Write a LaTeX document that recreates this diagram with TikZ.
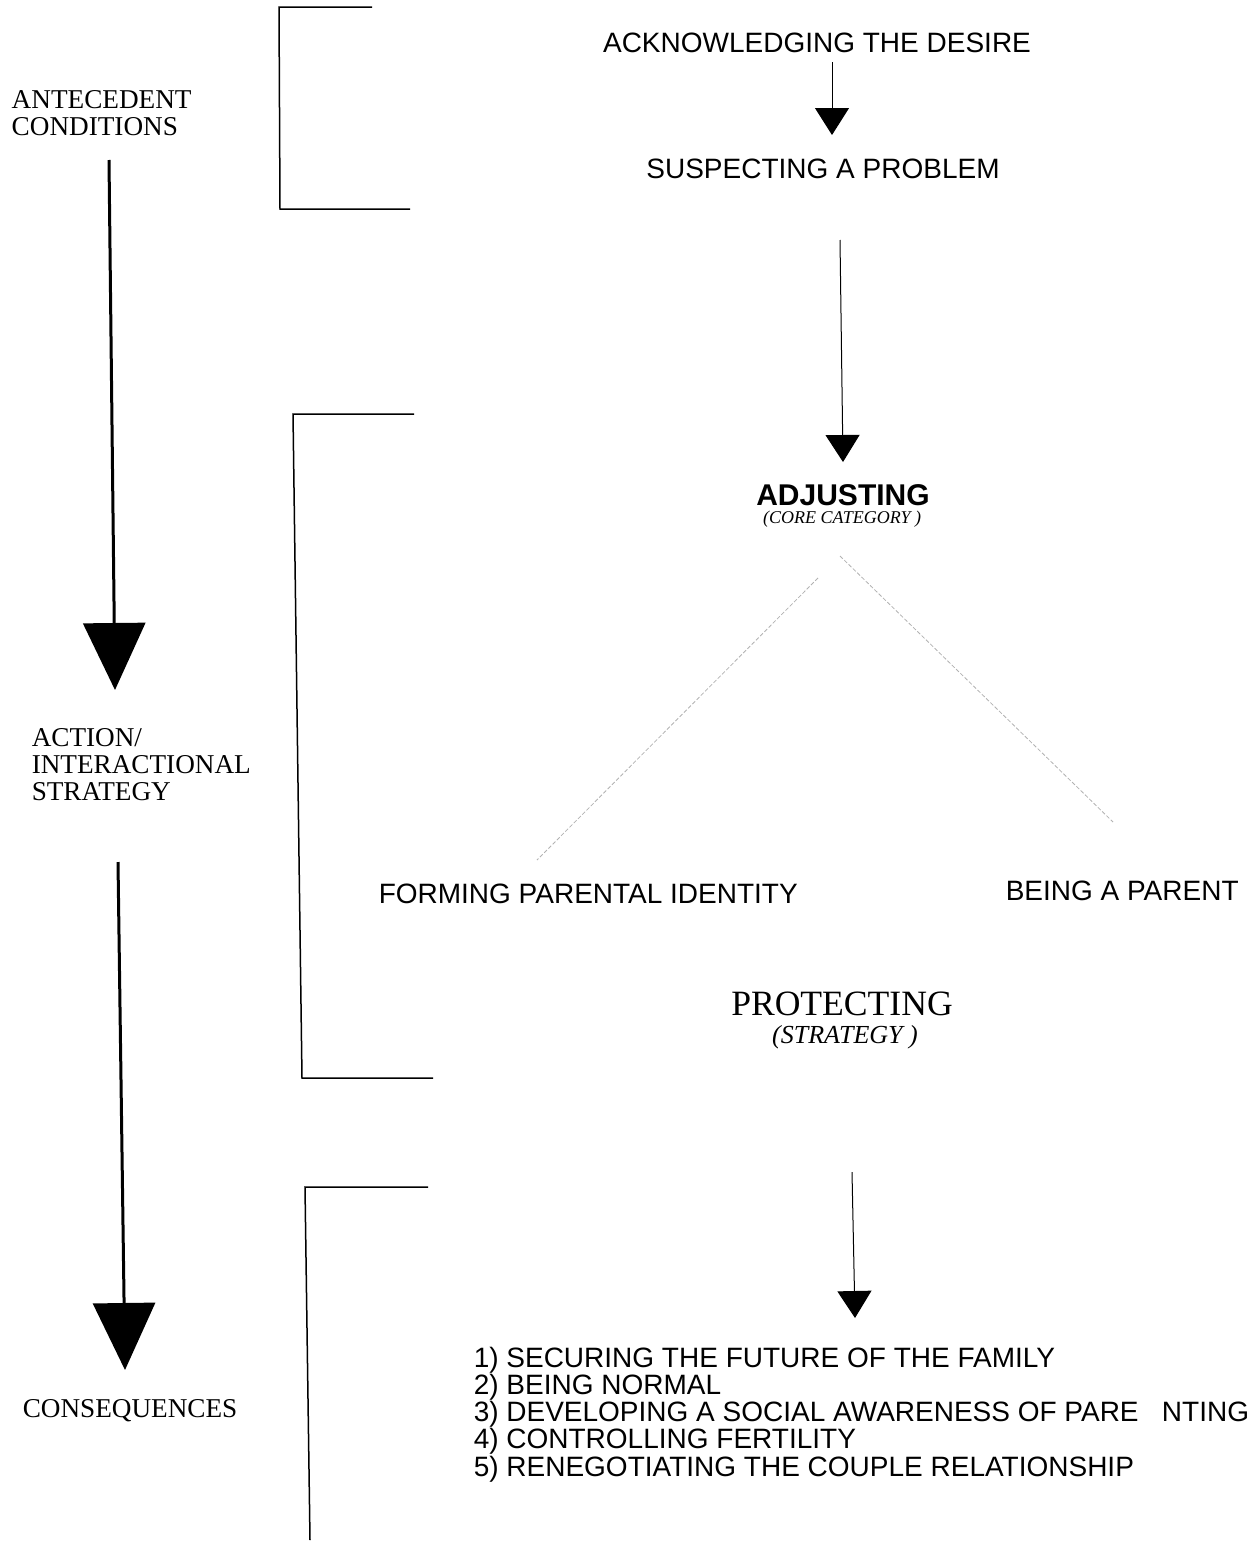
\documentclass[tikz,border=0pt]{standalone}
\usepackage{fontspec}
\setmainfont{Liberation Serif}
\setsansfont{Liberation Sans}
\usetikzlibrary{arrows.meta}
\tikzset{every picture/.style={line width=0.75pt}}
\tikzset{
  phase/.style={font=\fontsize{13.6}{13.5}\selectfont, align=left, inner sep=0pt},
  stage/.style={font=\sffamily\fontsize{14}{14}\selectfont, inner sep=0pt},
  flow/.style={line width=0.5pt, -{Triangle[width=17pt,length=13.5pt]}},
  bigflow/.style={line width=1.5pt, -{Triangle[width=31pt,length=33.5pt]}},
  branch/.style={gray!60, line width=0.4pt, dash pattern=on 2pt off 1pt},
}

\begin{document}
\begin{tikzpicture}[x=0.5pt,y=0.5pt,yscale=-1,xscale=1]
\useasboundingbox (0,0) rectangle (1249,1542);

%Shape: Bracket [antecedent]
\draw (372,7) -- (279,7) -- (280,209) -- (410,209) ;
%Shape: Bracket [strategy]
\draw (414,414) -- (293,414) -- (302,1078) -- (433,1078) ;
%Shape: Bracket [consequences]
\draw (428,1187) -- (305,1187) -- (310,1540) ;

% Text Node
\node (antec) [phase, anchor=base west] at (11,135) {ANTECEDENT\\CONDITIONS};
% Text Node
\node (action) [phase, anchor=base west] at (31,800) {ACTION/\\INTERACTIONAL\\STRATEGY};
% Text Node
\node (conseq) [phase, anchor=base west] at (22,1417) {CONSEQUENCES};

% Text Node
\node (ack) [stage, anchor=base] at (817,53) {ACKNOWLEDGING THE DESIRE};
% Text Node
\node (susp) [stage, anchor=base] at (823,178) {SUSPECTING A PROBLEM};
% Text Node
\node (adj) [stage, anchor=base, font=\sffamily\bfseries\fontsize{15}{15}\selectfont] at (843,505) {ADJUSTING};
% Text Node
\node (core) [anchor=base, inner sep=0pt, font=\itshape\fontsize{9}{9}\selectfont] at (842,523) {(CORE CATEGORY )};
% Text Node
\node (form) [stage, anchor=base west] at (378,903) {FORMING PARENTAL IDENTITY};
% Text Node
\node (being) [stage, anchor=base west] at (1005,900) {BEING A PARENT};
% Text Node
\node (prot) [anchor=base, inner sep=0pt, font=\fontsize{17.8}{17.8}\selectfont] at (842,1015) {PROTECTING};
% Text Node
\node (strat) [anchor=base, inner sep=0pt, font=\itshape\fontsize{13}{13}\selectfont] at (845,1043) {(STRATEGY )};
% Text Node
\node (list) [stage, anchor=base west, align=left, font=\sffamily\fontsize{14}{13.6}\selectfont] at (473,1476)
  {1) SECURING THE FUTURE OF THE FAMILY\\2) BEING NORMAL\\3) DEVELOPING A SOCIAL AWARENESS OF PARE~~~NTING\\4) CONTROLLING FERTILITY\\5) RENEGOTIATING THE COUPLE RELATIONSHIP};

% Arrow ends
\coordinate (ackOut) at (832,62);
\coordinate (suspIn) at (832,135);
\coordinate (suspOut) at (840,240);
\coordinate (adjIn) at (843,462);
\coordinate (protOut) at (852,1172);
\coordinate (listIn) at (855,1318);
\coordinate (adjL) at (818,578);
\coordinate (formIn) at (537,860);
\coordinate (adjR) at (840,556);
\coordinate (beingIn) at (1113,822);
\coordinate (antecOut) at (109,160);
\coordinate (actionIn) at (115,690);
\coordinate (actionOut) at (118,862);
\coordinate (conseqIn) at (125,1370);

%Straight Lines
\draw [flow] (ackOut) -- (suspIn) ;
\draw [flow] (suspOut) -- (adjIn) ;
\draw [flow] (protOut) -- (listIn) ;
%Straight Lines
\draw [branch] (adjL) -- (formIn) ;
\draw [branch] (adjR) -- (beingIn) ;
%Straight Lines
\draw [bigflow] (antecOut) -- (actionIn) ;
\draw [bigflow] (actionOut) -- (conseqIn) ;

\end{tikzpicture}
\end{document}
